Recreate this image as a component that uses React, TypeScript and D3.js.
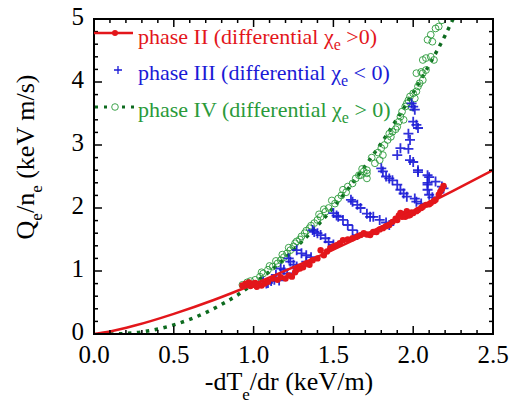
import React from "react";
import * as d3 from "d3";

// ---- data ----
const xMajorTicks = [0, 0.5, 1.0, 1.5, 2.0, 2.5];
const yMajorTicks = [0, 1, 2, 3, 4, 5];

// phase II fit curve (red solid)
const fitIIX = [0, 0.1, 0.25, 0.5, 0.75, 1.0, 1.25, 1.5, 1.75, 2.0, 2.25, 2.5];
const fitIIY = [0, 0.04, 0.13, 0.32, 0.54, 0.79, 1.06, 1.34, 1.64, 1.95, 2.27, 2.6];

// phase IV fit curve (green dotted)
const fitIVX = [0.1, 0.2, 0.3, 0.4, 0.5, 0.6, 0.7, 0.8, 0.9, 1.0, 1.1, 1.2, 1.3, 1.4, 1.5, 1.6, 1.7, 1.8, 1.9, 2.0, 2.1, 2.2, 2.25];
const fitIVY = [0, 0.008, 0.033, 0.079, 0.145, 0.232, 0.34, 0.471, 0.62, 0.8, 0.99, 1.21, 1.46, 1.72, 2.01, 2.33, 2.67, 3.03, 3.42, 3.83, 4.27, 4.74, 5.0];

// phase II data (red dots)
const phaseII: [number, number][] = [
  [0.93, 0.77], [0.95, 0.8], [0.96, 0.78], [0.97, 0.82], [0.98, 0.76], [0.99, 0.8], [1.0, 0.78],
  [1.01, 0.81], [1.02, 0.75], [1.03, 0.79], [1.05, 0.77], [1.07, 0.8], [1.09, 0.83],
  [1.12, 0.88], [1.15, 0.86], [1.17, 0.9], [1.2, 0.88], [1.22, 0.93], [1.24, 0.91], [1.26, 0.98],
  [1.27, 1.02], [1.29, 1.04], [1.31, 1.06], [1.33, 1.12], [1.35, 1.1], [1.37, 1.17], [1.4, 1.2],
  [1.42, 1.33], [1.44, 1.25], [1.46, 1.31], [1.48, 1.36], [1.5, 1.39], [1.52, 1.41], [1.54, 1.44],
  [1.56, 1.49], [1.59, 1.5], [1.62, 1.52], [1.65, 1.55], [1.67, 1.57], [1.69, 1.6], [1.71, 1.58],
  [1.73, 1.57], [1.75, 1.62], [1.77, 1.62], [1.79, 1.66], [1.81, 1.68], [1.83, 1.71], [1.85, 1.73],
  [1.87, 1.78], [1.89, 1.83], [1.9, 1.81], [1.91, 1.88], [1.92, 1.92], [1.93, 1.86], [1.94, 1.9],
  [1.95, 1.86], [1.96, 1.95], [1.97, 1.88], [1.98, 1.89], [1.99, 1.93], [2.0, 1.92], [2.02, 1.95],
  [2.03, 1.97], [2.05, 2.0], [2.06, 2.02], [2.08, 2.05], [2.1, 2.06], [2.11, 2.08], [2.13, 2.11],
  [2.14, 2.13], [2.16, 2.21], [2.17, 2.26], [2.18, 2.3], [2.19, 2.35],
];

// phase III data (blue plus)
const phaseIII: [number, number][] = [
  [1.06, 0.83], [1.08, 0.8], [1.09, 0.81], [1.11, 0.84], [1.13, 0.86], [1.16, 0.85],
  [1.14, 0.94], [1.17, 1.04], [1.19, 1.02], [1.21, 0.96],
  [1.22, 1.2], [1.23, 1.15], [1.25, 1.1], [1.27, 1.07],
  [1.27, 1.33], [1.3, 1.28], [1.33, 1.25], [1.36, 1.22], [1.33, 1.15],
  [1.37, 1.65], [1.38, 1.62], [1.4, 1.6], [1.42, 1.57], [1.45, 1.52], [1.47, 1.46], [1.5, 1.42],
  [1.5, 1.92], [1.52, 1.88], [1.53, 1.86], [1.56, 1.81], [1.59, 1.73], [1.62, 1.65], [1.65, 1.57],
  [1.61, 2.13], [1.62, 2.1], [1.65, 2.05], [1.67, 2.0], [1.71, 1.91], [1.73, 1.86], [1.75, 1.86],
  [1.79, 1.81], [1.83, 1.77], [1.85, 1.73],
  [1.8, 2.63], [1.81, 2.58], [1.83, 2.5], [1.85, 2.47], [1.87, 2.44], [1.9, 2.37], [1.92, 2.29],
  [1.94, 2.23], [1.96, 2.18], [2.01, 2.15], [2.02, 2.1], [2.05, 2.07],
  [1.99, 3.66], [2.0, 3.61], [2.01, 3.56], [2.0, 3.37], [2.02, 3.32], [2.03, 3.27], [1.97, 3.18],
  [1.98, 3.08], [1.92, 2.95], [1.9, 2.84], [1.97, 2.94], [1.98, 2.76], [2.0, 2.73], [2.03, 2.6],
  [2.03, 2.57], [2.09, 2.52], [2.1, 2.49], [2.09, 2.4], [2.09, 2.37], [2.09, 2.29], [2.1, 2.21],
  [2.12, 2.17], [2.14, 2.42], [2.18, 2.34], [2.19, 2.31],
];

// phase IV data (green open circles)
const phaseIV: [number, number][] = [
  [0.93, 0.78], [0.96, 0.82], [0.98, 0.84], [1.01, 0.86], [1.04, 0.91], [1.06, 0.96], [1.09, 1.02],
  [1.12, 1.07], [1.15, 1.12], [1.17, 1.17], [1.19, 1.22], [1.21, 1.28], [1.23, 1.33], [1.25, 1.39],
  [1.27, 1.47], [1.3, 1.55], [1.32, 1.6], [1.35, 1.68], [1.38, 1.76], [1.4, 1.81], [1.42, 1.86],
  [1.45, 1.94], [1.47, 2.0], [1.51, 2.07], [1.53, 2.15], [1.56, 2.29], [1.59, 2.34], [1.62, 2.39],
  [1.64, 2.47], [1.67, 2.52], [1.69, 2.58], [1.71, 2.55], [1.71, 2.47], [1.66, 2.52], [1.71, 2.6],
  [1.76, 2.71], [1.79, 2.76], [1.81, 2.84], [1.8, 2.95], [1.82, 3.0], [1.84, 3.08], [1.86, 3.13],
  [1.87, 3.21], [1.9, 3.29], [1.91, 3.37], [1.92, 3.45], [1.93, 3.53], [1.95, 3.61], [1.96, 3.66],
  [1.97, 3.71], [1.98, 3.77], [2.0, 3.82], [2.02, 3.85], [2.03, 3.93], [2.04, 3.98], [2.06, 4.03],
  [2.06, 4.14], [2.08, 4.19], [2.02, 4.14], [2.05, 4.16], [2.08, 4.38], [2.11, 4.4], [2.13, 4.35],
  [2.06, 4.35], [2.09, 4.67], [2.12, 4.64], [2.11, 4.75], [2.14, 4.85], [2.16, 4.88], [2.18, 4.98],
  [1.05, 0.98], [1.1, 1.08], [1.14, 1.16], [1.18, 1.26], [1.22, 1.37], [1.26, 1.44], [1.29, 1.5],
  [1.33, 1.64], [1.36, 1.72], [1.41, 1.9], [1.44, 1.98], [1.49, 2.12], [1.55, 2.2], [1.58, 2.25],
  [1.68, 2.62], [1.74, 2.8], [1.78, 2.88], [1.85, 3.18], [1.89, 3.25], [1.94, 3.4], [1.99, 3.6],
  [2.01, 3.74],
];

const RED = "#e3161b";
const BLUE = "#1a1ad6";
const GREEN = "#2a9a3a";
const DGREEN = "#0d6b1f";
const FONT = '"Liberation Serif"';

export default function App() {
  const W = 516, H = 403;
  const L = 94, R = 493, T = 19, B = 334;
  const x = d3.scaleLinear().domain([0, 2.5]).range([L, R]);
  const y = d3.scaleLinear().domain([0, 5]).range([B, T]);

  const xMinor = x.ticks(25);
  const yMinor = y.ticks(25);

  const line = d3.line<[number, number]>().x(d => x(d[0])).y(d => y(d[1])).curve(d3.curveMonotoneX);
  const fitII = fitIIX.map((v, i) => [v, fitIIY[i]] as [number, number]);
  const fitIV = fitIVX.map((v, i) => [v, fitIVY[i]] as [number, number]);

  const plus = (cx: number, cy: number, s: number) => `M${cx - s},${cy}H${cx + s}M${cx},${cy - s}V${cy + s}`;
  const ts: React.CSSProperties = { fontFamily: FONT };

  return (
    <svg width={W} height={H} style={{ position: "absolute", left: 0, top: 0, fontFamily: FONT }}>
      <defs>
        <clipPath id="plotclip">
          <rect x={L} y={T} width={R - L} height={B - T} />
        </clipPath>
      </defs>
      <rect width={W} height={H} fill="white" />

      <g clipPath="url(#plotclip)">
        <path d={line(fitIV) || ""} fill="none" stroke={DGREEN} strokeWidth={3.5} strokeDasharray="3.5 5.5" />
        {phaseIV.map((d, i) => (
          <circle key={"g" + i} cx={x(d[0])} cy={y(d[1])} r={3.4} fill="none" stroke={GREEN} strokeWidth={0.9} />
        ))}
        {phaseIII.map((d, i) => (
          <path key={"b" + i} d={plus(x(d[0]), y(d[1]), 5)} stroke={BLUE} strokeWidth={1.8} strokeOpacity={0.9} />
        ))}
        {phaseII.map((d, i) => (
          <circle key={"r" + i} cx={x(d[0])} cy={y(d[1])} r={3.2} fill={RED} />
        ))}
        <path d={line(fitII) || ""} fill="none" stroke={RED} strokeWidth={2.5} />
      </g>

      {/* ticks */}
      <g stroke="black" strokeWidth={1.5}>
        {xMinor.map((t, i) => {
          const major = xMajorTicks.some(m => Math.abs(m - t) < 1e-9);
          const len = major ? 8 : 4;
          return (
            <g key={"xt" + i}>
              <line x1={x(t)} x2={x(t)} y1={B} y2={B - len} />
              <line x1={x(t)} x2={x(t)} y1={T} y2={T + len} />
            </g>
          );
        })}
        {yMinor.map((t, i) => {
          const major = yMajorTicks.some(m => Math.abs(m - t) < 1e-9);
          const len = major ? 8 : 4;
          return (
            <g key={"yt" + i}>
              <line x1={L} x2={L + len} y1={y(t)} y2={y(t)} />
              <line x1={R} x2={R - len} y1={y(t)} y2={y(t)} />
            </g>
          );
        })}
      </g>
      <rect x={L} y={T} width={R - L} height={B - T} fill="none" stroke="black" strokeWidth={2} />

      {/* tick labels */}
      {xMajorTicks.map((t, i) => (
        <text key={"xl" + i} style={ts} x={x(t)} y={363} textAnchor="middle" fontSize={25} fill="black">
          {t.toFixed(1)}
        </text>
      ))}
      {yMajorTicks.map((t, i) => (
        <text key={"yl" + i} style={ts} x={84} y={y(t) + 6} textAnchor="end" fontSize={25} fill="black">
          {t}
        </text>
      ))}

      {/* axis titles */}
      <text style={ts} x={289} y={390} textAnchor="middle" fontSize={26} fill="black">
        -dT<tspan dy={10} fontSize={17}>e</tspan><tspan dy={-10}>/dr (keV/m)</tspan>
      </text>
      <text style={ts} transform="translate(34,157) rotate(-90)" textAnchor="middle" fontSize={26} fill="black">
        Q<tspan dy={8} fontSize={17}>e</tspan><tspan dy={-8}>/n</tspan><tspan dy={8} fontSize={17}>e</tspan><tspan dy={-8}> (keV m/s)</tspan>
      </text>

      {/* legend */}
      <line x1={L} x2={133} y1={33} y2={33} stroke={RED} strokeWidth={2.5} />
      <circle cx={115} cy={33} r={3} fill={RED} />
      <text style={ts} x={138} y={44} fontSize={22} fill={RED}>
        phase II (differential χ<tspan dy={6} fontSize={16}>e</tspan><tspan dy={-6}> &gt;0)</tspan>
      </text>

      <path d={plus(118, 70, 4)} stroke={BLUE} strokeWidth={1.3} />
      <text style={ts} x={138} y={80} fontSize={22} fill={BLUE}>
        phase III (differential χ<tspan dy={6} fontSize={16}>e</tspan><tspan dy={-6}> &lt; 0)</tspan>
      </text>

      <line x1={L + 1} x2={135} y1={107} y2={107} stroke={DGREEN} strokeWidth={3} strokeDasharray="3 6" />
      <circle cx={115} cy={107} r={3.3} fill="white" stroke={GREEN} strokeWidth={0.9} />
      <text style={ts} x={138} y={117} fontSize={22} fill={GREEN}>
        phase IV (differential χ<tspan dy={6} fontSize={16}>e</tspan><tspan dy={-6}> &gt; 0)</tspan>
      </text>
    </svg>
  );
}
